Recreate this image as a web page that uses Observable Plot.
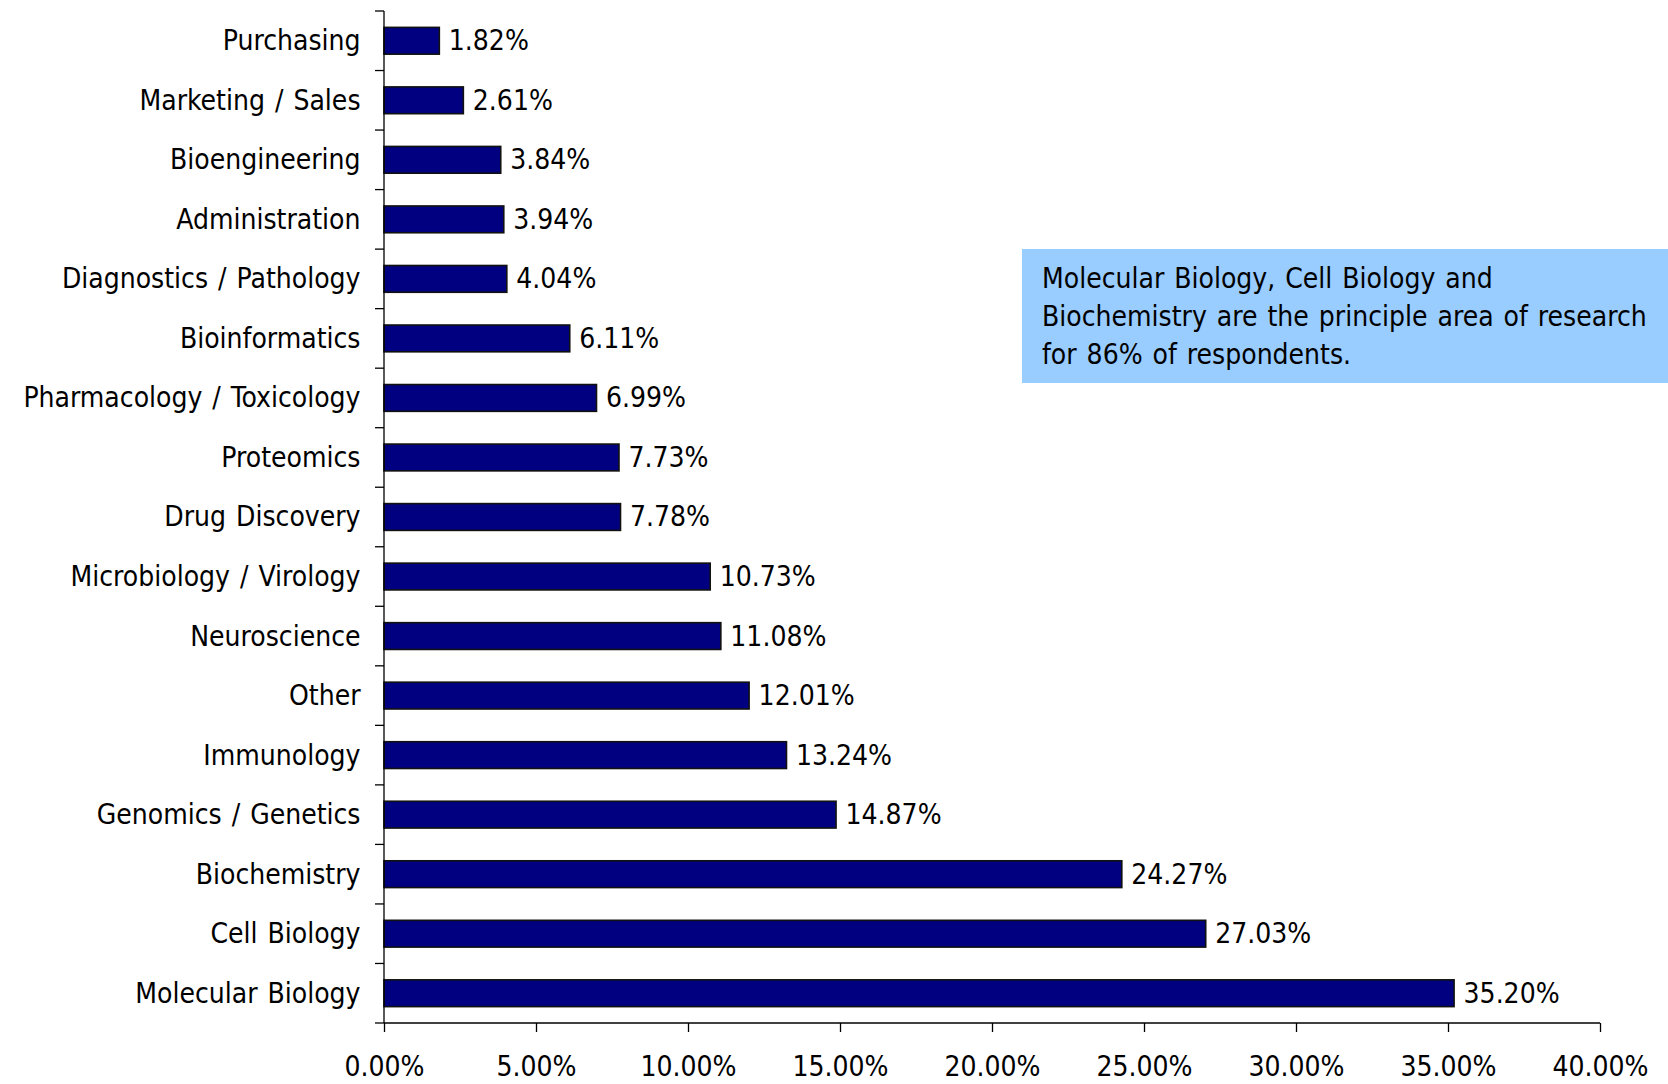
<!DOCTYPE html>
<html>
<head>
<meta charset="utf-8">
<script src="https://cdn.jsdelivr.net/npm/d3@7"></script>
<script src="https://cdn.jsdelivr.net/npm/@observablehq/plot@0.6"></script>
<style>
  html, body { margin: 0; padding: 0; background: #fff; }
  #wrap { position: relative; width: 1668px; height: 1084px; }
  #wrap svg text { word-spacing: 2px; }
  #note {
    position: absolute; left: 1022px; top: 249px; width: 626px; height: 123px;
    background: #99CCFF; padding: 11px 0 0 20px;
    font-family: "DejaVu Sans Condensed", "DejaVu Sans", sans-serif; font-stretch: condensed;
    font-size: 28px; line-height: 38px; color: #000; word-spacing: 2px; white-space: nowrap;
  }
</style>
</head>
<body>
<div id="wrap"></div>
<script>
const categories = [
  "Purchasing", "Marketing / Sales", "Bioengineering", "Administration",
  "Diagnostics / Pathology", "Bioinformatics", "Pharmacology / Toxicology",
  "Proteomics", "Drug Discovery", "Microbiology / Virology", "Neuroscience",
  "Other", "Immunology", "Genomics / Genetics", "Biochemistry", "Cell Biology",
  "Molecular Biology"
];
const values = [1.82, 2.61, 3.84, 3.94, 4.04, 6.11, 6.99, 7.73, 7.78, 10.73, 11.08, 12.01, 13.24, 14.87, 24.27, 27.03, 35.20];
const xTicks = [0, 5, 10, 15, 20, 25, 30, 35, 40];
const noteLines = [
  "Molecular Biology, Cell Biology and",
  "Biochemistry are the principle area of research",
  "for 86% of respondents."
];

const data = categories.map((c, i) => ({category: c, value: values[i]}));
const FONT = '"DejaVu Sans Condensed", "DejaVu Sans", sans-serif';

// custom mark: axis baseline and y tick marks at band boundaries
const axisLines = (index, scales, values, dims) => {
  const x = scales.x, y = scales.y;
  const bw = y.bandwidth ? y.bandwidth() : 0;
  const centers = categories.map(c => y(c) + bw / 2);
  const step = centers[1] - centers[0];
  const x0 = x(0);
  const g = d3.create("svg:g").attr("stroke", "#000").attr("stroke-width", 1.3);
  const bounds = centers.map(c => c - step / 2).concat([centers[centers.length - 1] + step / 2]);
  for (const b of bounds) {
    g.append("line").attr("x1", x0 - 9).attr("x2", x0).attr("y1", b).attr("y2", b);
  }
  const yb = bounds[bounds.length - 1];
  g.append("line").attr("x1", x0).attr("x2", x(xTicks[xTicks.length - 1])).attr("y1", yb).attr("y2", yb);
  g.append("line").attr("x1", x0).attr("x2", x0).attr("y1", bounds[0]).attr("y2", yb);
  return g.node();
};

const chart = Plot.plot({
  width: 1668,
  height: 1084,
  marginLeft: 384,
  marginRight: 68,
  marginTop: 11,
  marginBottom: 61,
  style: {fontFamily: FONT, fontSize: "28px", color: "#000", background: "#fff", fontStretch: "condensed"},
  x: {domain: [0, 40]},
  y: {domain: categories, paddingInner: 0.55, paddingOuter: 0.275, round: false},
  marks: [
    Plot.barX(data, {x: "value", y: "category", fill: "#000080", stroke: "#111", strokeWidth: 1.6}),
    Plot.text(data, {x: "value", y: "category", text: d => d.value.toFixed(2) + "%", textAnchor: "start", dx: 9, fontSize: 28, fill: "#000"}),
    Plot.axisY({tickSize: 0, tickPadding: 24, label: null, fontSize: 28}),
    Plot.axisX({ticks: xTicks, tickFormat: d => d.toFixed(2) + "%", tickSize: 9, tickPadding: 24, label: null, fontSize: 28, strokeWidth: 1.3}),
    axisLines
  ]
});

const wrap = document.getElementById("wrap");
wrap.appendChild(chart);
const note = document.createElement("div");
note.id = "note";
noteLines.forEach((t, i) => {
  if (i) note.appendChild(document.createElement("br"));
  note.appendChild(document.createTextNode(t));
});
wrap.appendChild(note);
</script>
</body>
</html>
